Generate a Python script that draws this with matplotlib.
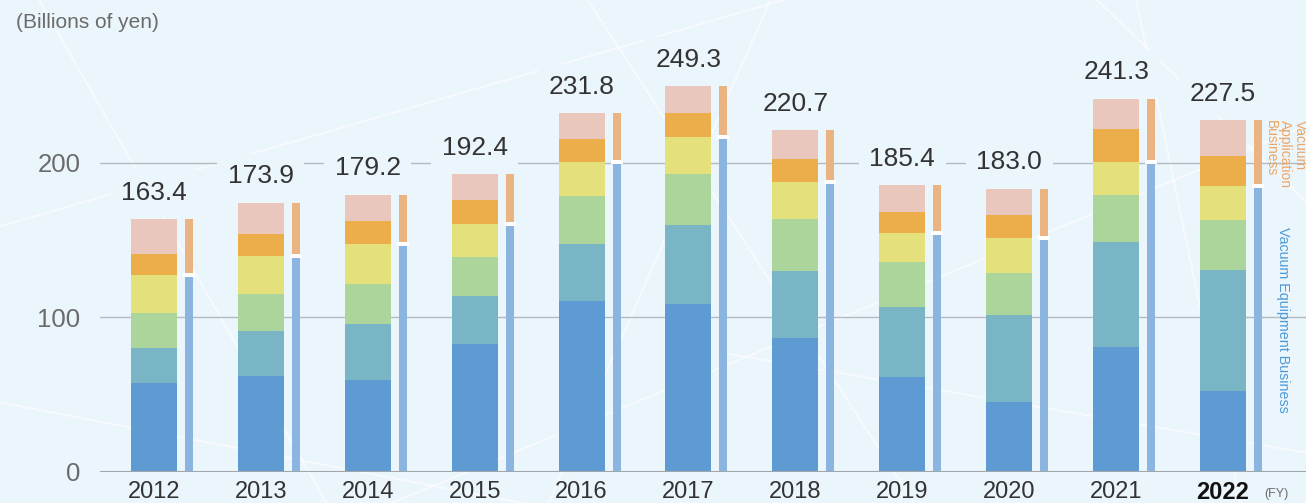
import numpy as np
import matplotlib.pyplot as plt

plt.rcParams["font.family"] = ["Liberation Sans", "DejaVu Sans"]

years = ["2012", "2013", "2014", "2015", "2016", "2017", "2018", "2019", "2020", "2021", "2022"]
# segments, bottom to top (billions of yen)
seg_blue = [57.6, 61.9, 59.3, 82.6, 110.4, 108.5, 86.5, 61.3, 45.1, 80.7, 52.2]
seg_teal = [22.6, 29.1, 36.2, 31.0, 36.9, 51.1, 43.3, 45.2, 56.3, 67.9, 78.3]
seg_green = [22.4, 23.9, 25.9, 25.3, 31.0, 33.0, 33.7, 29.1, 27.2, 30.4, 32.3]
seg_yellow = [24.6, 24.6, 25.9, 21.3, 22.0, 23.9, 23.9, 18.8, 22.6, 21.3, 22.0]
seg_orange = [13.6, 14.2, 14.9, 15.5, 14.9, 15.4, 14.9, 13.6, 14.8, 21.4, 19.4]
seg_pink = [22.6, 20.2, 17.0, 16.7, 16.6, 17.4, 18.4, 17.4, 17.0, 19.6, 23.3]
totals = [163.4, 173.9, 179.2, 192.4, 231.8, 249.3, 220.7, 185.4, 183.0, 241.3, 227.5]

segments = [seg_blue, seg_teal, seg_green, seg_yellow, seg_orange, seg_pink]
seg_colors = ["#5f9bd3", "#7ab5c6", "#acd59c", "#e4e07c", "#ebae4a", "#e9c7bd"]

bg = "#ebf5fc"
fig = plt.figure(figsize=(13.06, 5.03), dpi=100)
fig.patch.set_facecolor(bg)

# a few decorative light lines in the background
bgax = fig.add_axes([0, 0, 1, 1], zorder=-5)
for (x0, y0, x1, y1) in [(0.03, 1.0, 0.25, 0.0), (0.0, 0.55, 0.6, 1.0), (0.45, 1.0, 0.7, 0.0),
                         (0.59, 1.0, 0.42, 0.0), (0.3, 0.0, 1.0, 0.75), (0.84, 1.0, 1.0, 0.6),
                         (0.87, 1.0, 0.95, 0.0), (0.0, 0.2, 0.4, 0.0), (0.55, 0.3, 1.0, 0.1)]:
    bgax.plot([x0, x1], [y0, y1], color="white", lw=1.5, alpha=0.6)
bgax.set_xlim(0, 1)
bgax.set_ylim(0, 1)
bgax.axis("off")

ax = fig.add_axes([100 / 1306, (503 - 471.7) / 503, 1206 / 1306, 471.7 / 503])
ax.set_facecolor("none")
ax.set_ylim(0, 471.7 / 1.546)
ax.set_xlim(-0.505, -0.505 + 1206 / 106.9)

x = np.arange(len(years))
bw = 46 / 106.9
tx = x + 35 / 106.9
tw = 8 / 106.9

for yv in (100, 200):
    ax.axhline(yv, color="#b3bac1", lw=1, zorder=0)
ax.axhline(0, color="#a0a6ac", lw=2.2, zorder=3)

bottom = np.zeros(len(years))
for vals, c in zip(segments, seg_colors):
    ax.bar(x, vals, bw, bottom=bottom, color=c, zorder=2, linewidth=0)
    bottom += np.array(vals)

equip = np.array(seg_blue) + np.array(seg_teal) + np.array(seg_green) + np.array(seg_yellow)
appl = np.array(seg_orange) + np.array(seg_pink)
ax.bar(tx, equip, tw, color="#8bb5e0", zorder=2, linewidth=0)
ax.bar(tx, appl, tw, bottom=equip, color="#ebb382", zorder=2, linewidth=0)
ax.bar(tx, 2.6, 12 / 106.9, bottom=equip - 1.3, color="white", zorder=2.5, linewidth=0)

for xi, t in zip(x, totals):
    ax.annotate(f"{t:.1f}", (xi, t), xytext=(0, 14), textcoords="offset points",
                ha="center", va="baseline", fontsize=19, color="#333333", zorder=4,
                bbox=dict(boxstyle="square,pad=0.4", fc=bg, ec="none"))

ax.set_yticks([0, 100, 200])
ax.set_xticks(x)
ax.set_xticklabels(years)
ax.tick_params(axis="y", length=0, pad=14, labelsize=18.5, labelcolor="#6b6b6b")
ax.tick_params(axis="x", length=0, pad=7, labelsize=17, labelcolor="#333333")
ax.get_xticklabels()[-1].set_fontweight("bold")
ax.get_xticklabels()[-1].set_color("#111111")
for s in ax.spines.values():
    s.set_visible(False)

fig.text(16 / 1306, 1 - 13 / 503, "(Billions of yen)", ha="left", va="top",
         fontsize=15, color="#6b6b6b")
fig.text(1276 / 1306, 1 - 494 / 503, "(FY)", ha="center", va="center",
         fontsize=9, color="#6b6b6b")

ax.text(tx[-1] + 27 / 106.9, totals[-1], "Vacuum\nApplication\nBusiness", rotation=270,
        ha="center", va="top", multialignment="left", linespacing=1.05,
        fontsize=10, color="#eba565")
ax.text(tx[-1] + 25 / 106.9, 158, "Vacuum Equipment Business", rotation=270,
        ha="center", va="top", fontsize=10.3, color="#4c9ad8")

fig.savefig("out.png", dpi=100, facecolor=bg)
